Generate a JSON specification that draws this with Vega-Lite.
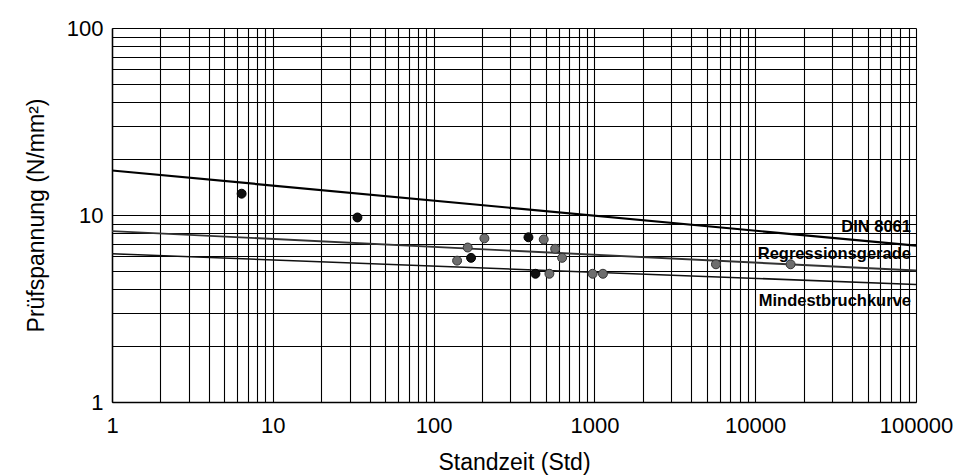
{
  "$schema": "https://vega.github.io/schema/vega-lite/v6.json",
  "autosize": "none",
  "width": 804,
  "height": 374,
  "padding": {"left": 112, "top": 28, "right": 56, "bottom": 73},
  "background": "white",
  "config": {
    "view": {"stroke": null},
    "font": "Liberation Sans",
    "axis": {
      "labelFont": "Liberation Sans",
      "titleFont": "Liberation Sans",
      "labelColor": "#000",
      "titleColor": "#000",
      "titleFontWeight": "normal",
      "gridColor": "#000",
      "gridOpacity": 1,
      "gridWidth": 1.1,
      "domainColor": "#000",
      "domainWidth": 1.5,
      "ticks": false
    }
  },
  "datasets": {
    "points": [
      {"t": 6.4, "s": 13.0, "kind": "black"},
      {"t": 33.6, "s": 9.7, "kind": "black"},
      {"t": 140, "s": 5.7, "kind": "gray"},
      {"t": 163, "s": 6.7, "kind": "gray"},
      {"t": 171, "s": 5.9, "kind": "black"},
      {"t": 207, "s": 7.5, "kind": "gray"},
      {"t": 389, "s": 7.6, "kind": "black"},
      {"t": 430, "s": 4.85, "kind": "black"},
      {"t": 484, "s": 7.4, "kind": "gray"},
      {"t": 525, "s": 4.85, "kind": "gray"},
      {"t": 570, "s": 6.6, "kind": "gray"},
      {"t": 630, "s": 5.9, "kind": "gray"},
      {"t": 975, "s": 4.85, "kind": "gray"},
      {"t": 1130, "s": 4.85, "kind": "gray"},
      {"t": 5700, "s": 5.45, "kind": "gray"},
      {"t": 16600, "s": 5.45, "kind": "gray"}
    ],
    "lines": [
      {"curve": "DIN 8061", "t": 1, "s": 17.3},
      {"curve": "DIN 8061", "t": 100000, "s": 6.85},
      {"curve": "Regressionsgerade", "t": 1, "s": 8.2},
      {"curve": "Regressionsgerade", "t": 100000, "s": 5.05},
      {"curve": "Mindestbruchkurve", "t": 1, "s": 6.2},
      {"curve": "Mindestbruchkurve", "t": 100000, "s": 4.25}
    ],
    "labels": [
      {"text": "DIN 8061", "t": 93000, "s": 8.65},
      {"text": "Regressionsgerade", "t": 93000, "s": 6.2},
      {"text": "Mindestbruchkurve", "t": 93000, "s": 3.45}
    ]
  },
  "layer": [
    {
      "data": {"name": "lines"},
      "mark": {"type": "line", "clip": true},
      "encoding": {
        "x": {
          "field": "t", "type": "quantitative",
          "scale": {"type": "log", "domain": [1, 100000], "nice": false},
          "axis": {
            "title": "Standzeit (Std)",
            "titleFontSize": 23,
            "titlePadding": 15,
            "labelFontSize": 22,
            "labelPadding": 13,
            "format": "d",
            "values": [1,2,3,4,5,6,7,8,9,10,20,30,40,50,60,70,80,90,100,200,300,400,500,600,700,800,900,1000,2000,3000,4000,5000,6000,7000,8000,9000,10000,20000,30000,40000,50000,60000,70000,80000,90000,100000],
            "labelExpr": "indexof([1,10,100,1000,10000,100000], datum.value) >= 0 ? datum.label : ''",
            "labelFlush": false,
            "labelOverlap": false
          }
        },
        "y": {
          "field": "s", "type": "quantitative",
          "scale": {"type": "log", "domain": [1, 100], "nice": false},
          "axis": {
            "title": "Prüfspannung (N/mm²)",
            "titleFontSize": 23,
            "titlePadding": 18,
            "labelFontSize": 22,
            "labelPadding": 9,
            "format": "d",
            "values": [1,2,3,4,5,6,7,8,9,10,20,30,40,50,60,70,80,90,100],
            "labelExpr": "indexof([1,10,100], datum.value) >= 0 ? datum.label : ''",
            "labelFlush": false,
            "labelOverlap": false
          }
        },
        "detail": {"field": "curve"},
        "color": {
          "field": "curve", "type": "nominal", "legend": null,
          "scale": {"domain": ["DIN 8061", "Regressionsgerade", "Mindestbruchkurve"], "range": ["#000000", "#333333", "#111111"]}
        },
        "strokeWidth": {
          "field": "curve", "type": "nominal", "legend": null,
          "scale": {"domain": ["DIN 8061", "Regressionsgerade", "Mindestbruchkurve"], "range": [2.2, 1.6, 1.6]}
        }
      }
    },
    {
      "data": {"name": "points"},
      "mark": {"type": "circle", "size": 80, "opacity": 1, "strokeWidth": 1},
      "encoding": {
        "x": {"field": "t", "type": "quantitative"},
        "y": {"field": "s", "type": "quantitative"},
        "fill": {
          "field": "kind", "type": "nominal", "legend": null,
          "scale": {"domain": ["black", "gray"], "range": ["#111111", "#6e6e6e"]}
        },
        "stroke": {
          "field": "kind", "type": "nominal", "legend": null,
          "scale": {"domain": ["black", "gray"], "range": ["#000000", "#333333"]}
        }
      }
    },
    {
      "data": {"name": "labels"},
      "mark": {"type": "text", "align": "right", "baseline": "middle", "fontWeight": "bold", "fontSize": 16.5, "font": "Liberation Sans", "color": "#000"},
      "encoding": {
        "x": {"field": "t", "type": "quantitative"},
        "y": {"field": "s", "type": "quantitative"},
        "text": {"field": "text"}
      }
    }
  ]
}
